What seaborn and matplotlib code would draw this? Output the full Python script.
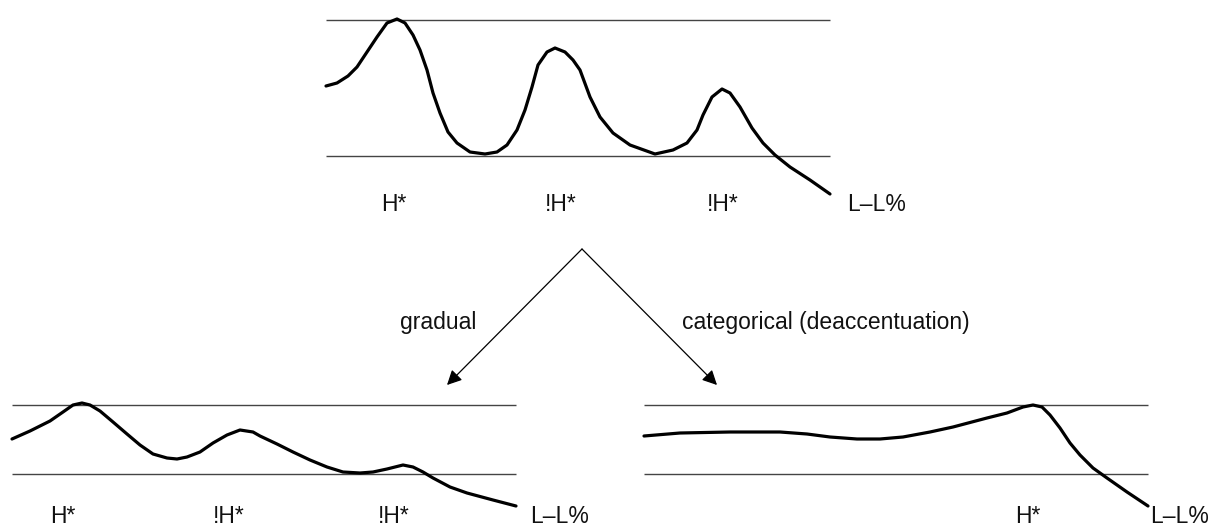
import matplotlib
matplotlib.use("Agg")
import matplotlib.pyplot as plt
import seaborn as sns
import pandas as pd

sns.set_theme(style="white")
plt.rcParams['font.family'] = ['Liberation Sans', 'DejaVu Sans']

# --- pitch contours (pixel coords, y downwards) ---
top_x = [326, 337, 348, 357, 367, 377, 387, 397, 405, 413, 420, 427, 433, 440, 448, 457, 470, 485,
         497, 507, 517, 525, 532, 538, 547, 555, 565, 573, 580, 590, 600, 613, 630, 655, 673, 687,
         697, 703, 712, 722, 730, 740, 752, 763, 775, 790, 810, 830]
top_y = [86, 83, 76, 67, 52, 37, 23, 19, 23, 35, 50, 70, 93, 113, 132, 143, 152, 154,
         152, 145, 130, 110, 87, 65, 52, 48, 52, 60, 70, 97, 117, 133, 145, 154, 150, 143,
         130, 115, 97, 89, 93, 107, 128, 143, 155, 167, 180, 194]

grad_x = [12, 30, 50, 63, 73, 82, 90, 100, 113, 127, 140, 153, 167, 177, 187, 200, 213, 227, 240,
          253, 260, 277, 293, 310, 327, 343, 360, 373, 387, 403, 413, 423, 433, 450, 467, 493, 516]
grad_y = [439, 431, 421, 412, 405, 403, 405, 411, 422, 434, 445, 454, 458, 459, 457, 452, 443, 435, 430,
          432, 436, 444, 452, 460, 467, 472, 473, 472, 469, 465, 467, 472, 478, 487, 493, 500, 506]

cat_x = [644, 680, 730, 780, 807, 830, 857, 880, 903, 930, 953, 987, 1007, 1023, 1033, 1042,
         1050, 1060, 1070, 1080, 1093, 1107, 1127, 1148]
cat_y = [436, 433, 432, 432, 434, 437, 439, 439, 437, 432, 427, 418, 413, 407, 405, 407,
         415, 428, 443, 455, 468, 478, 492, 506]

# reference lines (top / bottom of pitch range) per panel
top_span = (326, 830, 20, 156)
grad_span = (12, 516, 405, 474)
cat_span = (644, 1148, 405, 474)

# tone labels
top_labels = ['H*', '!H*', '!H*', 'L\u2013L%']
top_label_x = [381, 545, 707, 847]
grad_labels = ['H*', '!H*', '!H*', 'L\u2013L%']
grad_label_x = [50, 213, 378, 530]
cat_labels = ['H*', 'L\u2013L%']
cat_label_x = [1015, 1150]

fig = plt.figure(figsize=(12.2, 5.28), dpi=100)
ax = fig.add_axes([0, 0, 1, 1])

for x0, x1, ya, yb in [top_span, grad_span, cat_span]:
    ax.hlines([ya, yb], x0, x1, color='#444444', lw=1.0)

curves = pd.concat([
    pd.DataFrame({'x': top_x, 'y': top_y, 'curve': 'original'}),
    pd.DataFrame({'x': grad_x, 'y': grad_y, 'curve': 'gradual'}),
    pd.DataFrame({'x': cat_x, 'y': cat_y, 'curve': 'categorical'}),
])
sns.lineplot(data=curves, x='x', y='y', units='curve', estimator=None, sort=False,
             color='black', lw=2.3, ax=ax, solid_joinstyle='round', solid_capstyle='round')
ax.set_xlim(0, 1220)
ax.set_ylim(528, 0)
ax.axis('off')

for labels, xs, yb in [(top_labels, top_label_x, 211), (grad_labels, grad_label_x, 523),
                       (cat_labels, cat_label_x, 523)]:
    for lab, x in zip(labels, xs):
        ax.text(x, yb, lab, ha='left', va='baseline', fontsize=16.5, color='#111111')

# branching arrows
apex = (582, 249)
for tip in [(447, 385), (717, 385)]:
    ax.annotate('', xy=tip, xytext=apex,
                arrowprops=dict(arrowstyle='-|>', color='black', lw=0.9,
                                mutation_scale=22, shrinkA=0, shrinkB=0))

ax.text(400, 329, 'gradual', ha='left', va='baseline', fontsize=16.5, color='#111111')
ax.text(682, 329, 'categorical (deaccentuation)', ha='left', va='baseline', fontsize=16.5,
        color='#111111')

fig.savefig('out.png', dpi=100)
